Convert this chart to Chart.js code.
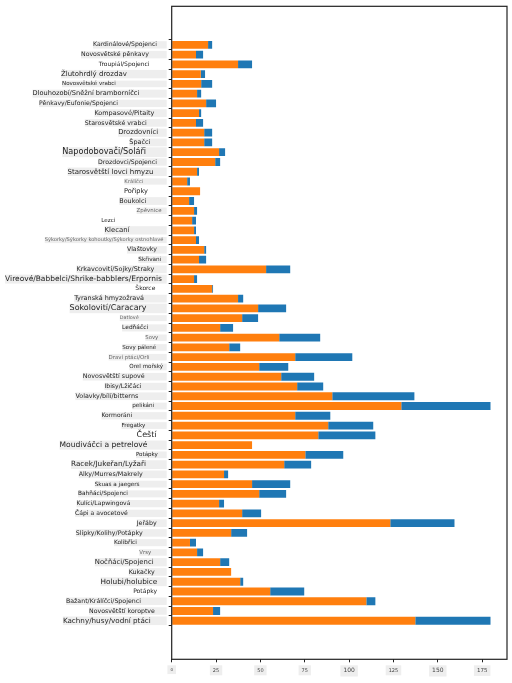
<!DOCTYPE html>
<html>
<head>
<meta charset="utf-8">
<script src="https://cdn.jsdelivr.net/npm/chart.js@4"></script>
<style>
  html, body { margin: 0; padding: 0; background: #fff; }
  #wrap { width: 512px; height: 683px; }
</style>
</head>
<body>
<div id="wrap"><canvas id="birdChart"></canvas></div>
<script>
const categories = [
  'Kardinálové/Spojenci', 'Novosvětské pěnkavy', 'Troupiál/Spojenci', 'Žlutohrdlý drozdav',
  'Novosvětské vrabci', 'Dlouhozobí/Sněžní bramborníčci', 'Pěnkavy/Eufonie/Spojenci', 'Kompasové/Pitaity',
  'Starosvětské vrabci', 'Drozdovníci', 'Špačci', 'Napodobovači/Soláři',
  'Drozdovci/Spojenci', 'Starosvětští lovci hmyzu', 'Králíčci', 'Pořipky',
  'Boukolci', 'Zpěvnice', 'Lezci', 'Klecaní',
  'Sýkorky/Sýkorky kohoutky/Sýkorky ostnohlavé', 'Vlaštovky', 'Skřivani', 'Krkavcovití/Sojky/Straky',
  'Vireové/Babbelci/Shrike-babblers/Erpornis', 'Škorce', 'Tyranská hmyzožravá', 'Sokolovití/Caracary',
  'Datlové', 'Ledňáčci', 'Sovy', 'Sovy pálené',
  'Draví ptáci/Orli', 'Orel mořský', 'Novosvětští supové', 'Ibisy/Lžičáci',
  'Volavky/bílí/bitterns', 'pelikáni', 'Kormoráni', 'Fregatky',
  'Čeští', 'Moudiváčci a petrelové', 'Potápky', 'Racek/Jukeřan/Lyžaři',
  'Alky/Murres/Makrely', 'Skuas a jaegers', 'Bahňáci/Spojenci', 'Kulíci/Lapwingová',
  'Čápi a avocetové', 'Jeřáby', 'Slípky/Kolihy/Potápky', 'Kolibříci',
  'Vrsy', 'Nočňáci/Spojenci', 'Kukačky', 'Holubi/holubice',
  'Potápky', 'Bažant/Králíčci/Spojenci', 'Novosvětští koroptve', 'Kachny/husy/vodní ptáci'
];

// orange part of each bar
const firstValues = [
  20.5, 13.7, 37.4, 16.4, 16.6, 14.3, 19.4, 15.4, 13.7, 18.3,
  18.3, 26.7, 24.5, 14.3, 8.7, 16.0, 9.8, 12.6, 11.5, 12.6,
  13.7, 18.3, 15.4, 53.2, 12.6, 22.8, 37.4, 48.7, 39.7, 27.3,
  60.6, 32.4, 69.6, 49.3, 61.7, 70.7, 90.5, 129.4, 69.6, 88.2,
  82.6, 45.3, 75.3, 63.4, 29.5, 45.3, 49.3, 26.7, 39.7, 123.2,
  33.5, 10.3, 14.3, 27.3, 33.5, 38.6, 55.5, 109.7, 23.3, 137.3
];

// blue part stacked on top
const secondValues = [
  2.3, 4.0, 7.9, 2.4, 6.2, 2.3, 5.6, 1.2, 4.0, 4.5,
  4.5, 3.4, 2.8, 1.1, 1.6, 0, 2.8, 1.7, 2.2, 1.1,
  1.7, 1.1, 4.0, 13.6, 1.7, 0.5, 2.9, 15.8, 9.0, 7.3,
  23.1, 6.2, 32.2, 16.4, 18.6, 14.7, 46.3, 50.3, 19.8, 25.4,
  32.2, 0, 21.4, 15.2, 2.3, 21.5, 15.2, 2.8, 10.7, 36.2,
  9.0, 3.4, 3.4, 5.1, 0, 1.7, 19.2, 5.1, 4.0, 42.4
];

const xTickValues = [0, 25, 50, 75, 100, 125, 150, 175];

// label look (pixel x of text start/end and of the grey box)
const labelTextLeft = [93,80,98,61,61,33,39,94,85,118,129,63,97,67,124,124,119,136,101,105,
  44,127,139,77,6,135,74,69,120,122,146,122,108,129,83,105,75,133,102,122,
  137,59,136,72,79,94,77,77,74,137,76,113,140,95,128,100,133,65,89,62];
const labelTextRight = [157,148,149,127,115,140,118,154,147,158,150,147,156,153,143,148,146,161,115,130,
  163,157,162,155,163,155,144,146,139,148,159,156,149,163,145,142,138,155,133,146,
  157,147,158,147,143,139,127,131,127,157,143,136,152,154,154,157,157,140,155,150];
const labelBoxLeft = [86,62,null,60,60,32,38,85,66,115,128,42,93,56,122,null,97,132,null,100,
  43,118,132,66,3,null,72,68,97,107,137,113,93,127,66,94,49,123,71,104,
  null,40,127,56,63,70,76,76,73,128,54,88,137,85,127,89,null,42,88,44];
const xTickSizes = [4, 5, 5, 5, 6, 5, 6, 5.5];

const AXIS_LEFT = 171.7;
const LABEL_ANCHOR = AXIS_LEFT - 3 - 2;
const FONT = 'DejaVu Sans';

const m = document.createElement('canvas').getContext('2d');
m.font = '10px "' + FONT + '"';
const spaceW = m.measureText(' ').width / 10;
const labelSizes = categories.map((c, i) => {
  const w = m.measureText(c).width;
  return Math.max(4, Math.min(10, 10 * (labelTextRight[i] - labelTextLeft[i]) / w));
});
const labelSpaces = categories.map((c, i) =>
  Math.max(0, Math.round((LABEL_ANCHOR - labelTextRight[i]) / (spaceW * labelSizes[i]))));

const frame = {
  id: 'frame',
  afterDraw(chart) {
    const {ctx, chartArea: a} = chart;
    ctx.save();
    ctx.strokeStyle = '#222';
    ctx.lineWidth = 1.2;
    ctx.strokeRect(a.left, a.top, a.right - a.left, a.bottom - a.top);
    ctx.restore();
  }
};

new Chart(document.getElementById('birdChart'), {
  type: 'bar',
  data: {
    datasets: [
      {
        data: firstValues.map((v, i) => ({x: v, y: i})),
        backgroundColor: '#ff7f0e',
        barPercentage: 0.8,
        categoryPercentage: 1
      },
      {
        data: secondValues.map((v, i) => ({x: v, y: i})),
        backgroundColor: '#1f77b4',
        barPercentage: 0.8,
        categoryPercentage: 1
      }
    ]
  },
  options: {
    indexAxis: 'y',
    responsive: true,
    maintainAspectRatio: false,
    animation: false,
    layout: {padding: {top: 6, right: 5, left: 0, bottom: 0}},
    plugins: {legend: {display: false}, tooltip: {enabled: false}},
    scales: {
      x: {
        type: 'linear',
        stacked: true,
        min: 0,
        max: 189,
        afterBuildTicks: s => { s.ticks = xTickValues.map(v => ({value: v})); },
        afterFit: s => { s.height = 23.7; },
        border: {display: false},
        grid: {drawOnChartArea: false, tickLength: 3, tickColor: '#222'},
        ticks: {
          maxRotation: 0,
          padding: 5,
          color: '#444',
          font: c => ({family: FONT, size: xTickSizes[c.index]}),
          showLabelBackdrop: true,
          backdropColor: '#eeeeee',
          backdropPadding: {left: 3, right: 3, top: 2, bottom: 2}
        }
      },
      y: {
        type: 'linear',
        stacked: true,
        reverse: true,
        min: -3.39,
        max: 62.39,
        afterBuildTicks: s => { s.ticks = categories.map((_, i) => ({value: i})); },
        afterFit: s => { s.width = AXIS_LEFT; },
        border: {display: false},
        grid: {drawOnChartArea: false, tickLength: 3, tickColor: '#222'},
        ticks: {
          autoSkip: false,
          padding: 2,
          callback: v => categories[v] + ' '.repeat(labelSpaces[v]),
          font: c => ({family: FONT, size: labelSizes[c.index]}),
          color: c => labelSizes[c.index] < 5.5 ? '#666' : '#222',
          showLabelBackdrop: true,
          backdropColor: c => labelBoxLeft[c.index] === null ? 'rgba(0,0,0,0)' : '#eeeeee',
          backdropPadding: c => ({
            left: labelBoxLeft[c.index] === null ? 0 : labelTextLeft[c.index] - labelBoxLeft[c.index],
            right: 0,
            top: 1.5,
            bottom: 1.5
          })
        }
      }
    }
  },
  plugins: [frame]
});
</script>
</body>
</html>
